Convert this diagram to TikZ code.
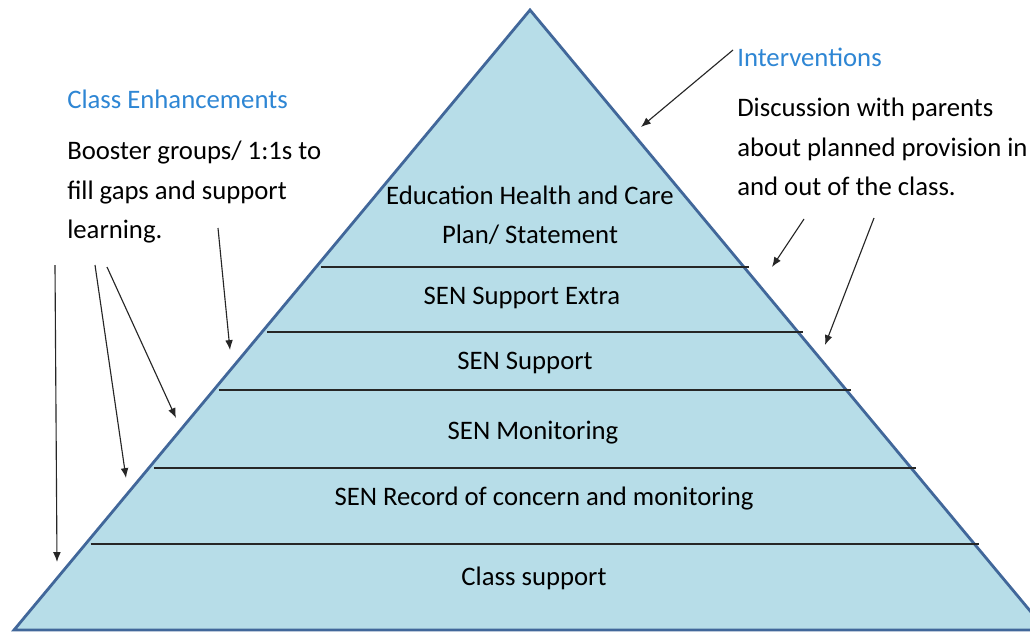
\documentclass[tikz,border=0pt]{standalone}
\usepackage{fontspec}
\setmainfont{Carlito}
\usepackage{xcolor}
\usetikzlibrary{positioning,calc,arrows.meta}

\definecolor{pyrfill}{HTML}{B7DDE8}
\definecolor{pyredge}{HTML}{41679A}
\definecolor{headblue}{HTML}{2E86D4}

\tikzset{
	layer/.style={draw=black!85, line width=1pt},
	level/.style={inner sep=0pt, font=\fontsize{19}{28}\selectfont, align=center},
	heading/.style={inner sep=0pt, font=\fontsize{19}{28}\selectfont, text=headblue, anchor=base west},
	note/.style={inner sep=0pt, font=\fontsize{19}{27.9}\selectfont, align=left, anchor=north west},
	pointer/.style={-{Latex[length=7pt,width=5.5pt]}, line width=0.8pt, black!85}
}

\begin{document}
\begin{tikzpicture}[x=0.025cm, y=-0.025cm]
\clip (0,0) rectangle (1030,631);
\fill[white] (0,0) rectangle (1030,631);

% the pyramid
\coordinate (apex) at (530,10);
\coordinate (bl) at (14,630);
\coordinate (br) at (1046,630);
\draw[fill=pyrfill, draw=pyredge, line width=2pt, line join=miter] (apex) -- (br) -- (bl) -- cycle;

% layers
\foreach \y in {267,332,390,468,544}{
	\draw[layer] ({535-0.8323*(\y-10)},\y) -- ({535+0.8323*(\y-10)},\y);
}

% level labels
\node[level] (ehc) at (530,215) {Education Health and Care\\Plan/ Statement};
\node[level] (extra) at (522,298) {SEN Support Extra};
\node[level] (support) at (525,363) {SEN Support};
\node[level] (monit) at (533,433) {SEN Monitoring};
\node[level] (record) at (544,499) {SEN Record of concern and monitoring};
\node[level] (class) at (534,578) {Class support};

% left side
\node[heading] (enh) at (67,108) {Class Enhancements};
\node[note] (booster) at (67,141) {Booster groups/ 1:1s to\\fill gaps and support\\learning.};

% right side
\node[heading] (interv) at (737,66) {Interventions};
\node[note] (discuss) at (737,98) {Discussion with parents\\about planned provision in\\and out of the class.};

% arrow ends
\coordinate (la) at (55,265);   \coordinate (lat) at (57,562);
\coordinate (lb) at (95,265);   \coordinate (lbt) at (126,478);
\coordinate (lc) at (107,267);  \coordinate (lct) at (176,418);
\coordinate (ld) at (218,228);  \coordinate (ldt) at (230,350);
\coordinate (ra) at (733,50);   \coordinate (rat) at (641,127);
\coordinate (rb) at (804,219);  \coordinate (rbt) at (772,267);
\coordinate (rc) at (874,218);  \coordinate (rct) at (825,345);

% links
\draw[pointer] (la) -- (lat);
\draw[pointer] (lb) -- (lbt);
\draw[pointer] (lc) -- (lct);
\draw[pointer] (ld) -- (ldt);
\draw[pointer] (ra) -- (rat);
\draw[pointer] (rb) -- (rbt);
\draw[pointer] (rc) -- (rct);

\end{tikzpicture}
\end{document}
